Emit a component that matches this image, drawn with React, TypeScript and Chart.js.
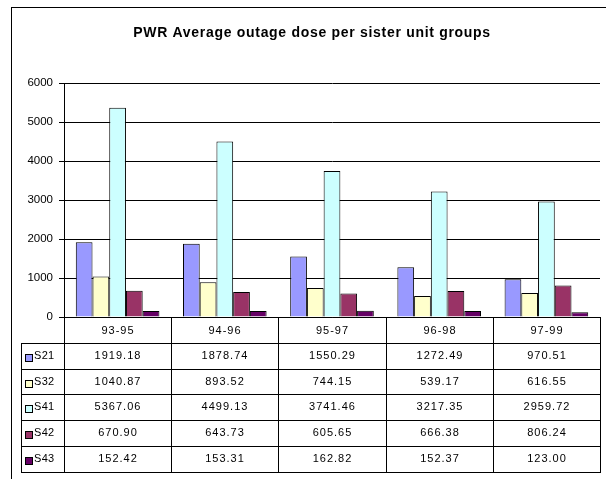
import React, { useEffect, useRef } from "react";
import { Chart, registerables } from "chart.js";

Chart.register(...registerables);

const title = "PWR Average outage dose per sister unit groups";
const categories = ["93-95", "94-96", "95-97", "96-98", "97-99"];
const seriesNames = ["S21", "S32", "S41", "S42", "S43"];
const s21 = [1919.18, 1878.74, 1550.29, 1272.49, 970.51];
const s32 = [1040.87, 893.52, 744.15, 539.17, 616.55];
const s41 = [5367.06, 4499.13, 3741.46, 3217.35, 2959.72];
const s42 = [670.9, 643.73, 605.65, 666.38, 806.24];
const s43 = [152.42, 153.31, 162.82, 152.37, 123.0];
const seriesColors = ["#9999FF", "#FFFFCC", "#CCFFFF", "#993366", "#660066"];
const yMin = 0;
const yMax = 6000;
const yStep = 1000;

const FONT = "'Liberation Sans', Arial, sans-serif";

const framePlugin = {
  id: "frameAndTable",
  beforeDraw(chart: any) {
    const ctx = chart.ctx;
    ctx.save();
    ctx.fillStyle = "#ffffff";
    ctx.fillRect(0, 0, chart.width, chart.height);
    ctx.strokeStyle = "#000000";
    ctx.lineWidth = 1;
    ctx.strokeRect(11.5, 7.5, chart.width + 50, chart.height + 50);
    ctx.fillStyle = "#000000";
    ctx.font = `bold 14px ${FONT}`;
    (ctx as any).letterSpacing = "0.7px";
    ctx.textAlign = "center";
    ctx.textBaseline = "middle";
    ctx.fillText(title, 312, 33);
    ctx.restore();
  },
  afterDraw(chart: any) {
    const ctx = chart.ctx;
    const area = chart.chartArea;
    const xs = chart.scales.x;
    const step = xs.getPixelForValue(1) - xs.getPixelForValue(0);
    const colEdges: number[] = [];
    for (let i = 0; i <= categories.length; i++) {
      colEdges.push(Math.round(xs.getPixelForValue(0) - step / 2 + i * step));
    }
    const top = Math.round(area.bottom);
    const rowH = 25.8;
    const rowLines: number[] = [];
    for (let r = 0; r <= seriesNames.length + 1; r++) rowLines.push(Math.round(top + r * rowH));
    const tableLeft = 21;
    const right = colEdges[colEdges.length - 1];
    const bottom = rowLines[rowLines.length - 1];

    ctx.save();
    ctx.strokeStyle = "#000000";
    ctx.lineWidth = 1;
    ctx.beginPath();
    colEdges.forEach((x) => {
      ctx.moveTo(x + 0.5, top);
      ctx.lineTo(x + 0.5, bottom + 0.5);
    });
    ctx.moveTo(tableLeft + 0.5, rowLines[1]);
    ctx.lineTo(tableLeft + 0.5, bottom + 0.5);
    ctx.moveTo(colEdges[0], top + 0.5);
    ctx.lineTo(right + 1, top + 0.5);
    for (let r = 1; r < rowLines.length; r++) {
      ctx.moveTo(tableLeft, rowLines[r] + 0.5);
      ctx.lineTo(right + 1, rowLines[r] + 0.5);
    }
    ctx.stroke();

    ctx.fillStyle = "#000000";
    ctx.textBaseline = "middle";
    ctx.font = `11px ${FONT}`;
    (ctx as any).letterSpacing = "1px";
    ctx.textAlign = "center";
    categories.forEach((c, i) => {
      const cx = (colEdges[i] + colEdges[i + 1]) / 2 + 0.5;
      ctx.fillText(c, cx, (rowLines[0] + rowLines[1]) / 2 + 1);
    });
    chart.data.datasets.forEach((ds: any, r: number) => {
      const cy = (rowLines[r + 1] + rowLines[r + 2]) / 2;
      ds.data.forEach((v: number, i: number) => {
        const cx = (colEdges[i] + colEdges[i + 1]) / 2 + 0.5;
        ctx.fillText(v.toFixed(2), cx, cy);
      });
    });
    (ctx as any).letterSpacing = "0.3px";
    ctx.textAlign = "left";
    ctx.font = `11px ${FONT}`;
    chart.data.datasets.forEach((ds: any, r: number) => {
      const cy = Math.round((rowLines[r + 1] + rowLines[r + 2]) / 2);
      ctx.fillStyle = ds.backgroundColor;
      ctx.fillRect(25, cy - 2, 7, 7);
      ctx.strokeStyle = "#000000";
      ctx.strokeRect(25.5, cy - 1.5, 7, 7);
      ctx.fillStyle = "#000000";
      ctx.fillText(ds.label, 34, cy);
    });
    ctx.restore();
  },
};

export default function App() {
  const ref = useRef<HTMLCanvasElement | null>(null);
  useEffect(() => {
    if (!ref.current) return;
    const values = [s21, s32, s41, s42, s43];
    const chart = new Chart(ref.current, {
      type: "bar",
      data: {
        labels: categories,
        datasets: seriesNames.map((name, i) => ({
          label: name,
          data: values[i],
          backgroundColor: seriesColors[i],
          borderColor: "#000000",
          borderWidth: 1,
          categoryPercentage: 0.78,
          barPercentage: 1,
        })),
      },
      options: {
        responsive: false,
        animation: false,
        layout: { padding: { left: 0, top: 83, right: 6, bottom: 162 } },
        plugins: {
          legend: { display: false },
          title: { display: false },
          tooltip: { enabled: false },
        },
        scales: {
          x: { display: false, offset: true },
          y: {
            min: yMin,
            max: yMax,
            afterFit: (scale: any) => {
              scale.width = 64;
            },
            ticks: {
              stepSize: yStep,
              color: "#000000",
              padding: 6,
              font: { family: FONT, size: 11.5 },
              callback: (v: any) => String(v),
            },
            grid: { color: "#000000", lineWidth: 1, tickLength: 5 },
            border: { display: true, color: "#000000" },
          },
        },
      },
      plugins: [framePlugin],
    });
    return () => chart.destroy();
  }, []);
  return (
    <div style={{ position: "absolute", left: 0, top: 0, width: 606, height: 479 }}>
      <canvas ref={ref} width={606} height={479} />
    </div>
  );
}
